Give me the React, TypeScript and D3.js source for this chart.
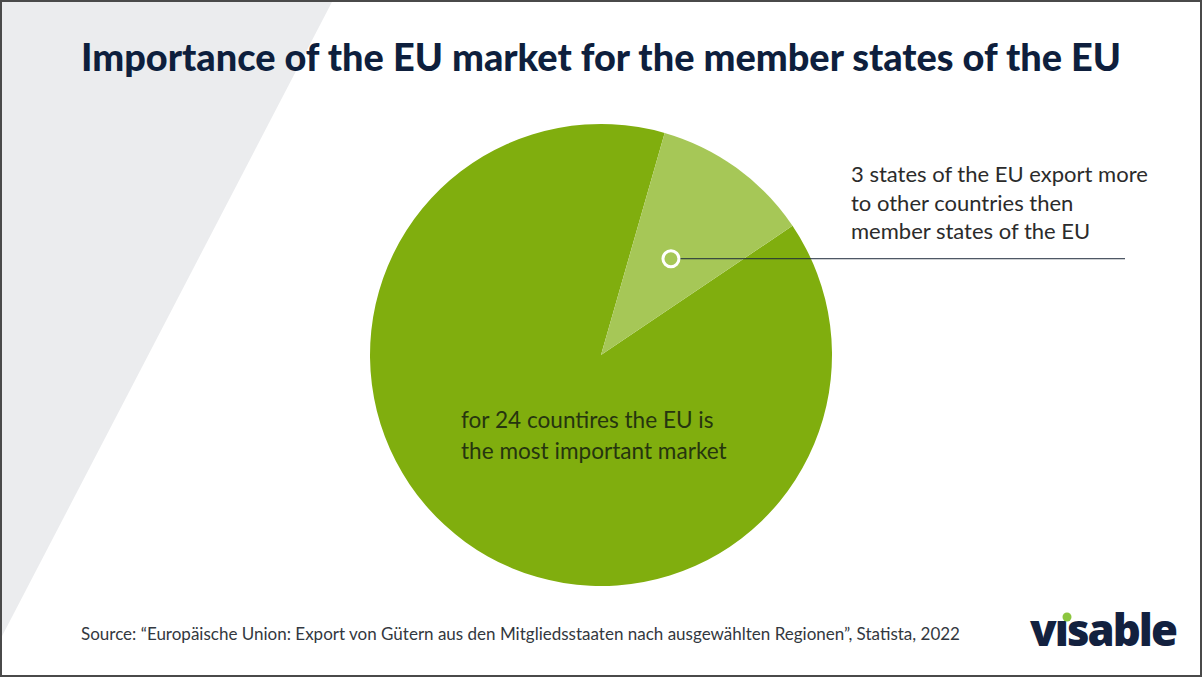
import React from "react";
import * as d3 from "d3";

const categories = ["EU is most important market", "Export more to other countries"];
const values = [24, 3];
const sliceColors = ["#80ae0e", "#a6c757"];
const title = "Importance of the EU market for the member states of the EU";
const insideLabel = ["for 24 countires the EU is", "the most important market"];
const calloutLabel = ["3 states of the EU export more", "to other countries then", "member states of the EU"];
const source =
  "Source: \u201CEurop\u00E4ische Union: Export von G\u00FCtern aus den Mitgliedsstaaten nach ausgew\u00E4hlten Regionen\u201D, Statista, 2022";

const W = 1202;
const H = 677;

export default function App() {
  const cx = 601;
  const cy = 355;
  const r = 231;
  const total = d3.sum(values);
  const smallSpan = (values[1] / total) * 2 * Math.PI;
  const smallStart = (16 * Math.PI) / 180;
  const start = smallStart + smallSpan;
  const pie = d3
    .pie<number>()
    .sort(null)
    .value((d) => d)
    .startAngle(start)
    .endAngle(start + 2 * Math.PI);
  const arcs = pie(values);
  const arc = d3.arc<d3.PieArcDatum<number>>().innerRadius(0).outerRadius(r);
  const dotArc = d3.arc<d3.PieArcDatum<number>>().innerRadius(0).outerRadius(238);
  const [dx, dy] = dotArc.centroid(arcs[1]);

  return (
    <svg
      width={W}
      height={H}
      viewBox={`0 0 ${W} ${H}`}
      style={{ position: "absolute", left: 0, top: 0, display: "block" }}
    >
      <rect x={0} y={0} width={W} height={H} fill="#ffffff" />
      <polygon points="0,0 333,0 0,640" fill="#ebecee" />
      <rect x={1} y={1} width={W - 2} height={H - 2} fill="none" stroke="#4a4a4a" strokeWidth={2} />
      <text
        x={81}
        y={71}
        fontFamily="Lato, 'Open Sans', sans-serif"
        fontWeight={900}
        fontSize={38}
        fill="#0e1f3d"
        textLength={1040}
        lengthAdjust="spacingAndGlyphs"
      >
        {title}
      </text>
      <g transform={`translate(${cx},${cy})`}>
        {arcs.map((a, i) => (
          <path key={categories[i]} d={arc(a) || ""} fill={sliceColors[i]} />
        ))}
        <line x1={dx} y1={dy} x2={1125 - cx} y2={dy} stroke="#1d2a3a" strokeWidth={1} />
        <circle cx={dx} cy={dy} r={8} fill="#a6c757" stroke="#ffffff" strokeWidth={3} />
      </g>
      {insideLabel.map((t, i) => (
        <text
          key={t}
          x={461}
          y={428 + i * 31}
          fontFamily="Lato, sans-serif"
          fontSize={22.6}
          fill="#26350f"
        >
          {t}
        </text>
      ))}
      {calloutLabel.map((t, i) => (
        <text
          key={t}
          x={851}
          y={182 + i * 28.5}
          fontFamily="Lato, sans-serif"
          fontSize={22}
          fill="#2b2b2b"
        >
          {t}
        </text>
      ))}
      <text
        x={81}
        y={640}
        fontFamily="Lato, sans-serif"
        fontSize={17}
        fill="#333840"
        textLength={879}
        lengthAdjust="spacingAndGlyphs"
      >
        {source}
      </text>
      <g>
        <text
          x={1030}
          y={646}
          fontFamily="'Open Sans', sans-serif"
          fontWeight={800}
          fontSize={44}
          fill="#13213f"
          letterSpacing={-2}
          textLength={146}
          lengthAdjust="spacingAndGlyphs"
        >
          {"v\u0131sable"}
        </text>
        <circle cx={1067} cy={617} r={4.5} fill="#8cc63f" />
      </g>
    </svg>
  );
}
